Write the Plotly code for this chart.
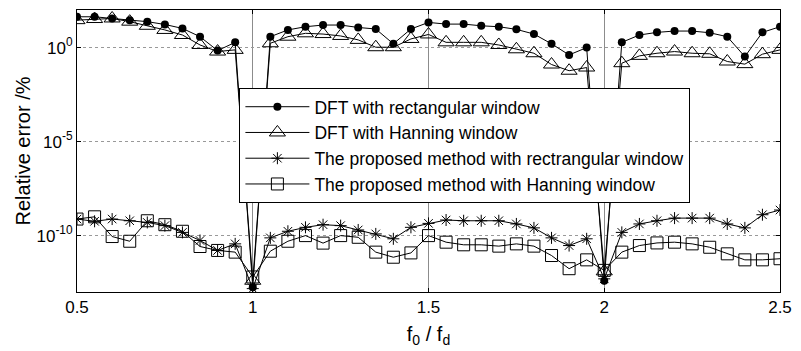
import plotly.graph_objects as go

f_ratio = [0.5, 0.55, 0.6, 0.65, 0.7, 0.75, 0.8, 0.85, 0.9, 0.95, 1.0,
           1.05, 1.1, 1.15, 1.2, 1.25, 1.3, 1.35, 1.4, 1.45, 1.5,
           1.55, 1.6, 1.65, 1.7, 1.75, 1.8, 1.85, 1.9, 1.95, 2.0,
           2.05, 2.1, 2.15, 2.2, 2.25, 2.3, 2.35, 2.4, 2.45, 2.5]

# log10 of relative error (%)
dft_rect_log10 = [1.64, 1.64, 1.55, 1.46, 1.38, 1.23, 1.02, 0.58, -0.16, 0.28, -12.75,
                  0.58, 0.94, 1.11, 1.2, 1.2, 1.07, 0.99, 0.2, 0.99, 1.34,
                  1.25, 1.25, 1.16, 1.11, 0.97, 0.72, 0.2, -0.39, 0.0, -12.4,
                  0.28, 0.67, 0.81, 0.88, 0.88, 0.79, 0.58, -0.48, 0.81, 1.11]
dft_hann_log10 = [1.46, 1.52, 1.55, 1.38, 1.16, 0.94, 0.67, 0.14, -0.21, -0.12, -12.4,
                  0.23, 0.58, 0.76, 0.72, 0.62, 0.41, 0.02, 0.02, 0.46, 0.70,
                  0.28, 0.28, 0.28, 0.14, -0.09, -0.3, -0.9, -1.23, -1.06, -11.9,
                  -0.83, -0.44, -0.3, -0.21, -0.3, -0.33, -0.74, -0.88, -0.35, -0.12]
prop_rect_log10 = [-9.12, -9.24, -9.12, -9.21, -9.3, -9.47, -9.83, -10.26, -10.79, -10.44, -12.82,
                   -10.12, -9.77, -9.56, -9.42, -9.47, -9.7, -9.91, -10.17, -9.56, -9.35,
                   -9.17, -9.21, -9.21, -9.21, -9.38, -9.59, -10.12, -10.53, -10.17, -12.3,
                   -9.83, -9.38, -9.21, -9.07, -9.07, -9.07, -9.38, -9.59, -8.89, -8.64]
prop_hann_log10 = [-9.12, -9.0, -10.05, -10.3, -9.21, -9.42, -9.77, -10.58, -10.79, -10.88, -12.2,
                   -10.83, -10.3, -10.0, -10.4, -10.0, -10.09, -10.88, -11.15, -10.92, -10.0,
                   -10.35, -10.49, -10.49, -10.56, -10.44, -10.56, -11.06, -11.76, -11.29, -11.85,
                   -10.88, -10.53, -10.39, -10.35, -10.44, -10.62, -10.97, -11.29, -11.29, -11.23]

names = ["DFT with rectangular window",
         "DFT with Hanning window",
         "The proposed method with rectrangular window",
         "The proposed method with Hanning window"]

series = [dft_rect_log10, dft_hann_log10, prop_rect_log10, prop_hann_log10]
markers = [dict(symbol="circle", size=8, color="black"),
           dict(symbol="triangle-up-open", size=14, color="black", line=dict(width=1)),
           dict(symbol="asterisk-open", size=10, color="black", line=dict(width=1)),
           dict(symbol="square-open", size=12, color="black", line=dict(width=1))]

fig = go.Figure()
for name, s, m in zip(names, series, markers):
    fig.add_trace(go.Scatter(
        x=f_ratio, y=[10 ** v for v in s], name=name, mode="lines+markers",
        line=dict(color="black", width=1), marker=m))

font = dict(family="Arial, Liberation Sans, sans-serif", size=17, color="black")

fig.update_layout(
    width=801, height=351,
    margin=dict(l=77, r=14, t=9, b=59),
    paper_bgcolor="white", plot_bgcolor="white",
    font=font,
    showlegend=True,
    legend=dict(x=0.231, y=0.724, xanchor="left", yanchor="top",
                bgcolor="white", bordercolor="black", borderwidth=1,
                font=dict(family="Arial, Liberation Sans, sans-serif", size=17.5),
                tracegroupgap=0, itemwidth=64),
)
fig.update_xaxes(
    range=[0.5, 2.5], tickvals=[0.5, 1, 1.5, 2, 2.5], ticktext=["0.5", "1", "1.5", "2", "2.5"],
    showline=True, linecolor="black", linewidth=1, mirror="ticks",
    ticks="inside", ticklen=4, tickcolor="black",
    showgrid=True, gridcolor="#8c8c8c", gridwidth=1,
    zeroline=False,
    title=dict(text="f<sub>0</sub> / f<sub>d</sub>", standoff=10),
)
fig.update_yaxes(
    type="log", range=[-13, 2],
    tickvals=[1e-10, 1e-5, 1], ticktext=["10<sup>-10</sup>", "10<sup>-5</sup>", "10<sup>0</sup>"],
    showline=True, linecolor="black", linewidth=1, mirror="ticks",
    ticks="inside", ticklen=4, tickcolor="black",
    showgrid=True, gridcolor="#999999", griddash="dot", gridwidth=1,
    zeroline=False,
    title=dict(text="Relative error /%", standoff=0),
)

fig.write_html("out.html", config={"displayModeBar": False},
               post_script="document.body.style.margin='0';document.body.style.overflow='hidden';")
